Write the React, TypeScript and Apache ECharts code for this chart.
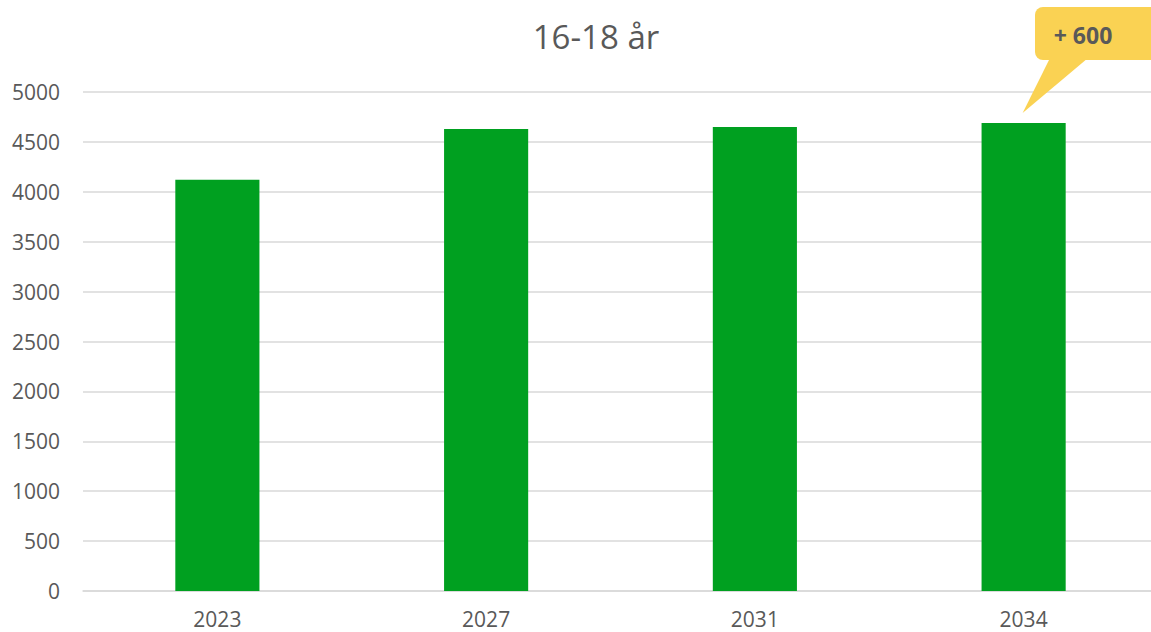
import React, { useEffect, useRef } from "react";
import * as echarts from "echarts";

const categories = ["2023", "2027", "2031", "2034"];
const values = [4120, 4630, 4650, 4690];
const yTicks = { min: 0, max: 5000, interval: 500 };
const titleText = "16-18 år";
const calloutText = "+ 600";

const FONT = "'Open Sans', 'Liberation Sans', sans-serif";

export default function App() {
  const ref = useRef<HTMLDivElement>(null);
  useEffect(() => {
    document.body.style.margin = "0";
    const chart = echarts.init(ref.current!, null, { renderer: "svg" });
    chart.setOption({
      animation: false,
      backgroundColor: "#ffffff",
      title: {
        text: titleText,
        left: 591,
        top: 15,
        textAlign: "center",
        textStyle: { fontFamily: FONT, fontSize: 33, fontWeight: "normal", color: "#595959" },
      },
      grid: {
        left: 83,
        width: 1075,
        top: 92,
        height: 499,
        containLabel: false,
        outerBoundsMode: "none",
      },
      xAxis: {
        type: "category",
        data: categories,
        axisLine: { show: true, lineStyle: { color: "#d9d9d9", width: 1.5 } },
        axisTick: { show: false },
        axisLabel: { fontFamily: FONT, fontSize: 21, color: "#595959", margin: 17 },
      },
      yAxis: {
        type: "value",
        min: yTicks.min,
        max: yTicks.max,
        interval: yTicks.interval,
        axisLine: { show: false },
        axisTick: { show: false },
        splitLine: { lineStyle: { color: "#d9d9d9", width: 1.5 } },
        axisLabel: {
          fontFamily: FONT,
          fontSize: 21,
          color: "#595959",
          margin: 23,
          formatter: (v: number) => String(v),
        },
      },
      series: [
        {
          type: "bar",
          data: values,
          barWidth: "31.3%",
          itemStyle: { color: "#00a020" },
        },
      ],
    });
    const tip = chart.convertToPixel({ seriesIndex: 0 }, [3, values[3]]) as number[];
    const tx = tip[0] - 1;
    const ty = tip[1] - 10;
    chart.setOption({
      graphic: [
        {
          type: "polygon",
          shape: { points: [[1050, 58], [1088, 58], [tx, ty]] },
          style: { fill: "#fad253" },
          z: 10,
        },
        {
          type: "rect",
          shape: { x: 1035, y: 7, width: 125, height: 53, r: 8 },
          style: { fill: "#fad253" },
          z: 10,
        },
        {
          type: "text",
          x: 1083,
          y: 35,
          style: {
            text: calloutText,
            fontFamily: FONT,
            fontSize: 23,
            fontWeight: "bold",
            fill: "#595959",
            align: "center",
            verticalAlign: "middle",
          },
          z: 11,
        },
      ],
    });
    return () => chart.dispose();
  }, []);
  return <div ref={ref} style={{ width: 1151, height: 632 }} />;
}
